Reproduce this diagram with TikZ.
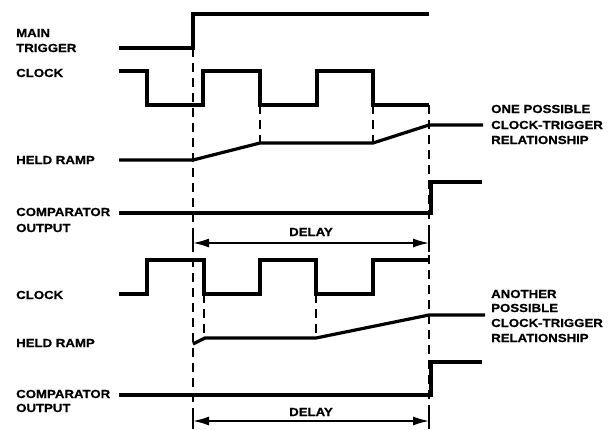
\documentclass[tikz,border=0pt]{standalone}
\usepackage{fontspec}
\newfontfamily\lblfont[FakeStretch=1.13,BoldFeatures={FakeBold=0.7}]{Liberation Sans}
\usetikzlibrary{arrows.meta}
\begin{document}
\begin{tikzpicture}[x=1pt,y=-1pt,
  wave/.style={line width=3.2pt},
  guide/.style={line width=1.5pt, dash pattern=on 9pt off 6pt},
  tickmark/.style={line width=1.6pt},
  dim/.style={line width=1.6pt, {Latex[length=16pt,width=9pt]}-{Latex[length=16pt,width=9pt]}},
  lbl/.style={anchor=base west, inner sep=0pt, font=\lblfont\bfseries\fontsize{11.7}{13}\selectfont},
  ctr/.style={anchor=base, inner sep=0pt, font=\lblfont\bfseries\fontsize{11.7}{13}\selectfont}]
\useasboundingbox (0,0) rectangle (610,429);

% guide (dashed) lines
\draw[guide] (193,48) -- (193,408);
\draw[guide] (260,105) -- (260,143);
\draw[guide] (373,105) -- (373,143);
\draw[guide] (429,105) -- (429,408);
\draw[guide] (204,294) -- (204,338);
\draw[guide] (316,294) -- (316,338);

% main trigger
\draw[wave] (119,48) -- (193,48) -- (193,14) -- (429,14);
% clock 1
\draw[wave] (119,71) -- (147,71) -- (147,105) -- (203,105) -- (203,71) -- (260,71) -- (260,105) -- (317,105) -- (317,71) -- (373,71) -- (373,105) -- (429,105);
% held ramp 1
\draw[wave] (119,160) -- (193,160) -- (260,143) -- (373,143) -- (429,125) -- (483,125);
% comparator 1
\draw[wave] (119,213) -- (431,213) -- (431,182) -- (482,182);
% delay 1
\coordinate (d1l) at (193,243);
\coordinate (d1r) at (429,243);
\draw[tickmark] (193,228) -- (193,252);
\draw[tickmark] (429,228) -- (429,252);
\draw[dim] (d1l) -- (d1r);
\node[ctr] (delay1) at (311,236) {DELAY};

% clock 2
\draw[wave] (119,294) -- (147,294) -- (147,260) -- (204,260) -- (204,294) -- (260,294) -- (260,260) -- (316,260) -- (316,294) -- (373,294) -- (373,260) -- (429,260);
% held ramp 2
\draw[wave] (193,344) -- (205,338) -- (316,338) -- (429,315) -- (485,315);
% comparator 2
\draw[wave] (119,395) -- (431,395) -- (431,362) -- (482,362);
% delay 2
\coordinate (d2l) at (193,421);
\coordinate (d2r) at (429,421);
\draw[tickmark] (193,408) -- (193,429);
\draw[tickmark] (429,408) -- (429,429);
\draw[dim] (d2l) -- (d2r);
\node[ctr] (delay2) at (311,416) {DELAY};

% left labels
\node[lbl] (main) at (16,37) {MAIN};
\node[lbl] (trig) at (16,52) {TRIGGER};
\node[lbl] (clk1) at (16,77) {CLOCK};
\node[lbl] (ramp1) at (16,164) {HELD RAMP};
\node[lbl] (comp1) at (16,216) {COMPARATOR};
\node[lbl] (out1) at (16,232) {OUTPUT};
\node[lbl] (clk2) at (16,299) {CLOCK};
\node[lbl] (ramp2) at (16,347) {HELD RAMP};
\node[lbl] (comp2) at (16,398) {COMPARATOR};
\node[lbl] (out2) at (16,412) {OUTPUT};

% right labels
\node[lbl] (r1a) at (491,113) {ONE POSSIBLE};
\node[lbl] (r1b) at (491,129) {CLOCK-TRIGGER};
\node[lbl] (r1c) at (491,144) {RELATIONSHIP};
\node[lbl] (r2a) at (491,298) {ANOTHER};
\node[lbl] (r2b) at (491,312) {POSSIBLE};
\node[lbl] (r2c) at (491,327) {CLOCK-TRIGGER};
\node[lbl] (r2d) at (491,342) {RELATIONSHIP};
\end{tikzpicture}
\end{document}
